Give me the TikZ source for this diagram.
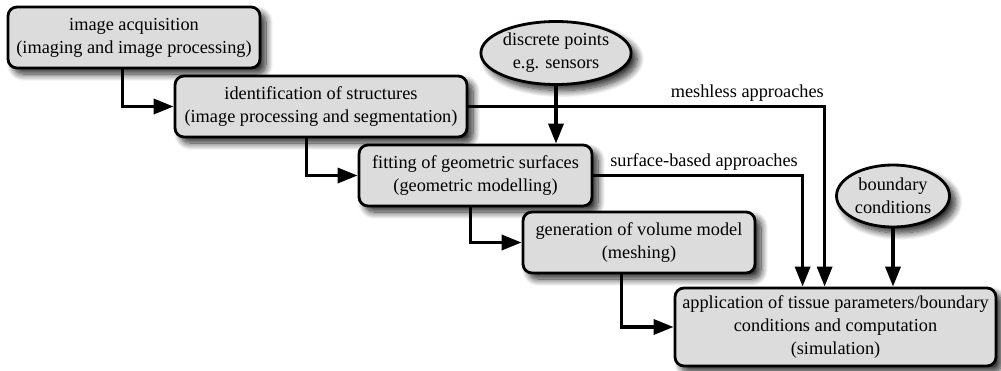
\documentclass[tikz,border=0pt]{standalone}
\usepackage{fontspec}
\setmainfont{Liberation Serif}
\newfontfamily\timesish{Liberation Serif}
\usetikzlibrary{arrows.meta,shapes.geometric,shadows.blur,calc}
\definecolor{boxgray}{RGB}{220,220,220}
\tikzset{
  txt/.style={font=\timesish\fontsize{18.3}{23}\selectfont},
  shade/.style={blur shadow={shadow xshift=6pt, shadow yshift=-6pt, shadow blur steps=12,
    shadow blur radius=7pt, shadow opacity=85}},
  stage/.style={txt, draw=black, line width=2.8pt, fill=boxgray, rounded corners=9pt,
    align=center, inner sep=0pt, shade},
  blob/.style={txt, ellipse, draw=black, line width=2.8pt, fill=boxgray, align=center,
    inner sep=0pt, shade},
  flow/.style={line width=3.4pt, -{Triangle[length=20pt,width=15pt]}},
  lbl/.style={txt, inner sep=0pt}
}
\begin{document}
\begin{tikzpicture}[x=1pt,y=-1pt]
\useasboundingbox (0,0) rectangle (1001,370);
\node[stage, minimum width=252pt, minimum height=61pt] (b1) at (134,37.5)
  {image acquisition\\(imaging and image processing)};
\node[stage, minimum width=292pt, minimum height=61pt] (b2) at (321,106.5)
  {identification of structures\\(image processing and segmentation)};
\node[stage, minimum width=233pt, minimum height=61pt] (b3) at (475.5,175.5)
  {fitting of geometric surfaces\\(geometric modelling)};
\node[stage, minimum width=232pt, minimum height=61pt] (b4) at (639,242.5)
  {generation of volume model\\(meshing)};
\node[stage, minimum width=321pt, minimum height=78pt] (b5) at (835.5,327)
  {application of tissue parameters/boundary\\conditions and computation\\(simulation)};
\node[blob, minimum width=144pt, minimum height=63pt] (e1) at (556,53)
  {discrete points\\e.g. sensors};
\node[blob, minimum width=113pt, minimum height=62pt] (e2) at (893,196)
  {boundary\\conditions};

\draw[flow] ([xshift=116pt]b1.south west) |- (b2.west);
\draw[flow] ([xshift=133pt]b2.south west) |- (b3.west);
\draw[flow] ([xshift=113pt]b3.south west) |- (b4.west);
\draw[flow] ([xshift=100pt]b4.south west) |- (b5.west);
\draw[flow] (e1.south) -- (e1.south |- b3.north);
\draw[flow] (b2.east) -| ([xshift=151pt]b5.north west);
\draw[flow] (b3.east) -| ([xshift=129pt]b5.north west);
\draw[flow] (e2.south) -- (e2.south |- b5.north);

\node[lbl, anchor=base east] (l1) at (824,97) {meshless approaches};
\node[lbl, anchor=base east] (l2) at (798,166) {surface-based approaches};
\end{tikzpicture}
\end{document}
